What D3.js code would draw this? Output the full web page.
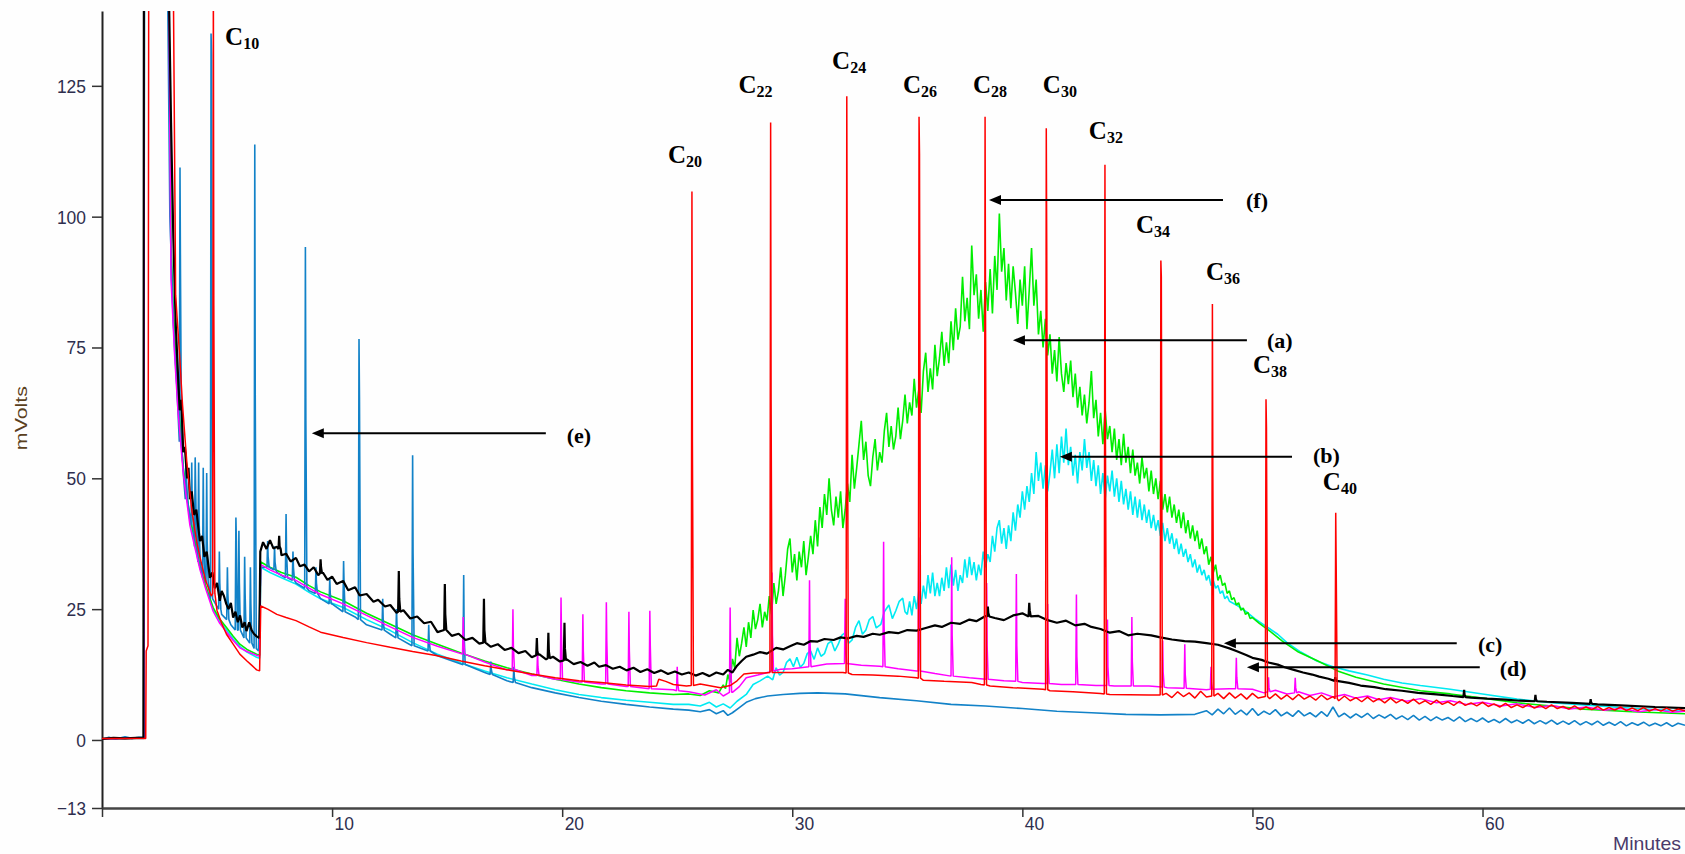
<!DOCTYPE html>
<html><head><meta charset="utf-8">
<script src="https://cdn.jsdelivr.net/npm/d3@7"></script>
<style>body{margin:0;background:#fff}svg{display:block}</style>
</head><body>
<script>
// ---------------- DATA (time in minutes, signal in mV) ----------------
const yTickValues = [-13, 0, 25, 50, 75, 100, 125];
const xTickValues = [0, 10, 20, 30, 40, 50, 60];
const xTickLabels = ["", "10", "20", "30", "40", "50", "60"];
const xTitle = "Minutes";
const yTitle = "mVolts";

// (c) black
const blackBase = [[0,0.2],[0.5,0.4],[1,0.3],[1.5,0.4],[1.8,0.4],[1.82,145],[2.9,145],[3.0,118],[3.1,96],[3.2,80],[3.3,70],[3.38,63],[3.45,65],[3.53,55],[3.6,56],[3.7,50],[3.76,52],[3.82,46],[3.9,47.5],[4.0,43],[4.1,44],[4.2,40],[4.26,38],[4.35,39],[4.45,35],[4.55,36],[4.69,31],[4.8,32],[4.9,29],[5.0,30],[5.12,26.6],[5.2,28.5],[5.3,27.5],[5.4,26],[5.5,25],[5.6,26.2],[5.7,23.4],[5.8,24.5],[5.9,22.5],[6.0,23.8],[6.1,21.5],[6.2,22.5],[6.28,20.8],[6.4,22.5],[6.5,21],[6.6,20.3],[6.72,19.8],[6.84,19.5],[6.88,36],[7.0,37.8],[7.15,36.5],[7.3,38.2],[7.45,36.6],[7.6,36.9],[7.8,35.3],[8.0,35.6],[8.2,34.1],[8.43,34.8],[8.6,33.2],[8.8,33.5],[9.0,32.2],[9.2,33.0],[9.4,31.5],[9.6,32.0],[9.8,30.6],[10.0,31.2],[10.2,29.8],[10.48,30.4],[10.7,28.6],[11,29.2],[11.2,27.6],[11.5,27.9],[11.8,26.4],[12,26.8],[12.3,25.5],[12.53,25.8],[12.8,24.3],[13.1,24.8],[13.4,23.2],[13.7,23.6],[14,22.3],[14.3,22.6],[14.58,20.6],[14.9,21.2],[15.2,19.9],[15.5,20.3],[15.8,19.1],[16.1,19.5],[16.4,18.4],[16.63,18.8],[16.9,17.8],[17.2,18.3],[17.5,17.2],[17.8,17.6],[18.1,16.6],[18.4,17.0],[18.68,15.8],[19.0,16.4],[19.3,15.4],[19.6,15.9],[19.9,15.0],[20.2,15.4],[20.5,14.5],[20.8,14.9],[21.1,14.2],[21.4,14.8],[21.6,14.0],[21.9,14.3],[22.2,13.6],[22.5,14.0],[22.8,13.3],[23.1,13.8],[23.4,13.0],[23.7,13.5],[24.0,12.8],[24.3,13.3],[24.6,12.6],[24.9,13.1],[25.2,12.5],[25.5,12.9],[25.8,12.3],[26.1,12.8],[26.4,12.2],[26.7,12.9],[27.0,12.5],[27.2,13.4],[27.4,12.9],[27.6,14.2],[27.8,15.1],[28.0,15.9],[28.3,16.3],[28.6,16.8],[28.9,16.5],[29.3,17.6],[29.6,17.3],[29.9,17.9],[30.2,18.5],[30.5,18.2],[30.8,18.9],[31.1,18.8],[31.4,19.3],[31.8,19.1],[32.1,19.6],[32.4,19.4],[32.8,19.9],[33.1,19.7],[33.5,20.3],[33.8,20.1],[34.2,20.6],[34.6,20.4],[35.0,21.0],[35.4,20.9],[35.8,21.4],[36.2,21.9],[36.5,21.6],[36.9,22.4],[37.3,22.2],[37.7,23.0],[38.0,22.7],[38.4,23.7],[38.8,23.3],[39.2,22.9],[39.6,23.8],[40.0,24.2],[40.3,23.6],[40.7,23.7],[41.1,22.9],[41.5,22.4],[41.9,22.8],[42.3,21.9],[42.7,22.2],[43.0,21.6],[43.4,21.2],[43.8,20.5],[44.2,20.8],[44.6,20.0],[45.0,20.3],[45.6,20.0],[46.0,19.6],[46.5,19.2],[47.05,18.9],[47.5,18.8],[48.0,18.5],[48.5,18.2],[49.0,17.5],[49.3,17.0],[49.7,16.3],[50,15.7],[50.4,15.3],[50.7,14.8],[51.1,14.4],[51.4,13.9],[51.8,13.4],[52.2,12.9],[52.6,12.5],[52.9,12.1],[53.3,11.7],[53.6,11.3],[54.2,10.9],[54.7,10.4],[55.3,10.1],[55.8,9.7],[56.5,9.4],[57.2,9.0],[58,8.7],[58.7,8.4],[59.5,8.1],[60.2,7.9],[61,7.7],[61.6,7.5],[62.8,7.3],[63.9,7.1],[65,6.8],[66,6.6],[67.5,6.3],[68.8,6.1]];
// peaks: [time, base, apex, shoulder]
const blackPeaks = [[7.7,36.5,39,37],[9.5,31.8,34.5,33],[12.9,24.5,32.3,27],[14.9,21,29.8,24],[16.6,18.6,27,21],[18.9,16.2,19.5,17],[19.4,15.6,20.5,17],[20.1,15.2,22.4,17.5],[38.5,23.6,25.5,24.3],[40.3,23.6,26.2,24.8],[53.6,11.3,12,11.5],[59.2,8.2,9.6,8.6],[62.3,7.4,8.6,7.8],[64.7,6.9,7.8,7.2]];

// (f) red n-alkane standard
const redBase = [[0,0.3],[1,0.3],[1.9,0.3],[1.92,17],[2.0,18],[2.03,145],[3.1,145],[3.2,85],[3.38,73],[3.5,64],[3.68,53.4],[3.9,44],[4.11,38],[4.26,34.9],[4.5,30.5],[4.75,27.5],[5.0,24.7],[5.2,22.3],[5.41,20.2],[5.7,18.3],[5.99,16.4],[6.3,15.1],[6.5,14.3],[6.72,13.4],[6.85,13.2],[6.9,25.6],[7.2,25.0],[7.6,24.0],[8.0,23.4],[8.43,22.8],[9,21.6],[9.5,20.6],[10.48,19.6],[11.5,18.6],[12.53,17.7],[13.5,16.9],[14.58,16.1],[15.6,15.1],[16.63,14.2],[17.6,13.4],[18.68,12.6],[19.7,11.9],[20.73,11.3],[21.7,11.0],[22.78,10.5],[23.8,10.2],[24.1,10.3],[24.2,11.6],[24.5,11.2],[24.83,10.6],[25.4,10.3],[26.0,10.7],[26.88,10.0],[27.3,10.4],[27.6,11.3],[27.9,12.6],[28.3,12.8],[28.8,12.8],[29.5,12.9],[30.33,12.9],[31.2,12.9],[32.2,12.9],[32.6,12.5],[33.5,12.4],[34.6,12.2],[35.4,11.9],[35.7,11.4],[36.6,11.2],[37.8,11.0],[38.2,10.6],[38.6,10.3],[39.6,10.0],[40.9,9.7],[41.2,9.4],[42.2,9.2],[43.4,8.9],[43.8,8.7],[45.5,8.6],[46.25,8.9],[46.5,8.1],[46.75,9.2],[47.0,8.3],[47.25,9.0],[47.5,8.0],[47.75,9.3],[48.0,8.2],[48.5,8.9],[48.75,7.9],[49.0,9.0],[49.25,8.0],[49.5,8.8],[49.75,7.8],[50.0,8.9],[50.25,8.0],[50.75,7.9],[51.0,8.8],[51.25,7.8],[51.5,8.6],[51.75,7.7],[52.0,8.7],[52.25,7.8],[52.5,8.4],[52.75,7.6],[53.0,8.6],[53.25,7.7],[53.5,8.3],[53.75,7.5],[54.0,8.4],[54.25,7.5],[54.5,8.1],[54.75,7.3],[55.0,8.2],[55.25,7.3],[55.5,7.9],[55.75,7.1],[56.0,8.0],[56.25,7.1],[56.5,7.7],[56.75,7.0],[57.0,7.8],[57.25,6.9],[57.5,7.5],[57.75,6.8],[58.0,7.6],[58.25,6.8],[58.5,7.3],[58.75,6.6],[59.0,7.4],[59.25,6.6],[59.5,7.1],[59.75,6.5],[60.0,7.2],[60.25,6.4],[60.5,6.9],[60.75,6.3],[61.0,7.0],[61.25,6.2],[61.5,6.7],[61.75,6.2],[62.0,6.8],[62.25,6.1],[62.5,6.6],[62.75,6.0],[63.0,6.7],[63.25,6.0],[63.5,6.4],[63.75,5.9],[64.0,6.5],[64.25,5.8],[64.5,6.3],[64.75,5.8],[65.0,6.4],[65.25,5.7],[65.5,6.2],[65.75,5.7],[66.0,6.3],[66.25,5.6],[66.5,6.1],[66.75,5.6],[67.0,6.2],[67.25,5.5],[67.5,6.0],[67.75,5.5],[68.0,6.1],[68.25,5.5],[68.5,5.9],[68.8,5.6]];
const redPeaks = [[4.84,28,145,83],[25.64,10.4,104.8,57],[29.06,12.9,118.0,65],[32.37,12.8,123.0,85],[35.51,11.8,119.1,112],[38.38,10.5,119.1,81],[41.04,9.6,116.9,94],[43.59,8.8,109.9,59],[46.02,8.6,91.6,88.5],[48.26,8.4,83.3,50],[50.59,8.3,65.1,59.7],[53.62,7.9,43.4,33.3]];

// (e) blue
const blueBase = [[0,0.1],[0.3,0.5],[0.6,0.2],[1.0,0.6],[1.3,0.3],[1.6,0.5],[1.82,0.5],[1.84,145],[2.85,145],[2.95,100],[3.1,80],[3.25,68],[3.4,58],[3.55,50],[3.7,45],[3.85,40],[4.0,37],[4.2,34],[4.4,31],[4.6,29],[4.8,27],[5.0,25.5],[5.2,24],[5.4,23],[5.6,22],[5.8,21],[6.0,20],[6.2,19.5],[6.4,18.5],[6.6,17.5],[6.8,17],[6.9,33],[7.2,33.5],[7.6,32],[8.0,31],[8.43,30],[9,28.5],[9.5,27],[10.0,26],[10.48,24.7],[11,23.5],[11.5,22],[12.53,20.2],[13.5,18],[14.58,16.1],[15.6,14.5],[16.63,12.9],[17.6,11.3],[18.68,10.0],[19.7,9.0],[20.73,8.1],[21.7,7.4],[22.78,6.8],[23.8,6.3],[24.83,5.9],[25.5,5.7],[26,5.4],[26.4,5.8],[26.7,5.0],[27.0,5.6],[27.2,4.7],[27.4,5.2],[27.7,6.2],[28.0,7.2],[28.4,7.9],[28.93,8.4],[29.6,8.7],[30.33,8.9],[31.1,9.0],[32.3,8.8],[33.8,8.1],[35.4,7.5],[36.9,6.8],[38.4,6.5],[40,6.0],[41.5,5.5],[43,5.2],[44.5,4.9],[46,4.8],[47.5,4.9],[48.0,5.6],[48.25,4.8],[48.5,5.9],[48.75,5.0],[49.0,6.1],[49.25,4.9],[49.5,5.7],[49.75,4.8],[50.0,6.0],[50.25,4.7],[50.5,5.5],[50.75,4.9],[51.0,5.8],[51.25,4.6],[51.5,5.3],[51.75,4.5],[52.0,5.6],[52.25,4.6],[52.5,5.2],[52.75,4.4],[53.0,5.4],[53.25,4.5],[53.5,6.3],[53.75,4.4],[54.0,5.1],[54.25,4.2],[54.5,5.0],[54.75,4.3],[55.0,5.1],[55.25,4.1],[55.5,4.8],[55.75,4.2],[56.0,4.9],[56.25,4.0],[56.5,4.6],[56.75,3.9],[57.0,4.7],[57.25,3.8],[57.5,4.5],[57.75,3.7],[58.0,4.4],[58.25,3.8],[58.5,4.3],[58.75,3.6],[59.0,4.4],[59.25,3.5],[59.5,4.1],[59.75,3.5],[60.0,4.2],[60.25,3.4],[60.5,3.9],[60.75,3.3],[61.0,4.1],[61.25,3.3],[61.5,3.8],[61.75,3.2],[62.0,3.9],[62.25,3.1],[62.5,3.7],[62.75,3.1],[63.0,3.8],[63.25,3.0],[63.5,3.6],[63.75,3.0],[64.0,3.7],[64.25,2.9],[64.5,3.5],[64.75,2.9],[65.0,3.6],[65.25,2.8],[65.5,3.4],[65.75,2.8],[66.0,3.5],[66.25,2.7],[66.5,3.3],[66.75,2.8],[67.0,3.4],[67.25,2.7],[67.5,3.2],[67.75,2.7],[68.0,3.3],[68.25,2.6],[68.5,3.2],[68.8,2.8]];
const bluePeaks = [[3.39,57,109.4,90],[3.65,46,55,50],[3.9,41,53,45],[4.05,37,54,48],[4.2,34,53,42],[4.4,31,52,40],[4.55,30,51,38],[4.74,27,135,131],[5.1,25,36,30],[5.45,23,33,28],[5.82,21,42.5,38],[5.95,21,40,30],[6.2,19.5,35,28],[6.45,18.5,33,26],[6.64,17.5,113.8,66],[7.2,33,38,35],[7.5,32.5,37,34],[8.0,31,43.2,36],[8.3,30.5,36,33],[8.84,29,94.2,61],[9.3,28,33,30],[9.9,26,31,28],[10.5,24.5,34.2,30],[11.17,23,76.6,65.5],[12.2,21,27,23],[12.8,19.5,25,22],[13.5,18,54.4,35.5],[14.2,17,22,19],[15.72,14.4,31.5,20],[16.9,12.5,15,13.5],[17.9,11,14,12]];

// (b) cyan
const cyanBase = [[0,0.2],[1,0.3],[1.82,0.3],[1.84,145],[2.9,145],[3.0,90],[3.15,75],[3.3,64],[3.53,52],[3.82,42],[4.0,38],[4.26,33],[4.5,29.5],[4.83,25.0],[5.1,22.8],[5.41,21.0],[5.7,19.3],[5.99,17.9],[6.3,16.8],[6.72,15.8],[6.85,15.6],[6.9,33],[7.3,32],[7.8,31],[8.43,29.8],[9,28.2],[9.5,27],[10.48,25.3],[11.5,23],[12.53,20.9],[13.5,18.6],[14.58,16.4],[15.6,14.7],[16.63,13.2],[17.6,11.9],[18.68,10.7],[19.7,9.6],[20.73,8.7],[21.7,8.1],[22.78,7.6],[23.8,7.2],[24.83,6.8],[25.5,6.8],[26,6.5],[26.4,7.2],[26.7,6.3],[27.0,6.9],[27.3,6.1],[27.6,7.4],[28.0,8.7],[28.3,10.6],[28.6,11.3],[28.93,12.2],[29.15,11.5],[29.3,13.8],[29.45,12.4],[29.6,12.9],[29.75,14.8],[29.9,15.5],[30.05,14.0],[30.2,15.8],[30.35,13.9],[30.5,14.6],[30.65,16.5],[30.8,17.0],[30.95,15.4],[31.1,17.6],[31.25,16.0],[31.4,16.5],[31.55,18.4],[31.7,18.9],[31.85,17.0],[32.0,18.3],[32.15,20.0],[32.3,20.5],[32.45,18.5],[32.6,19.1],[32.75,21.5],[32.9,22.8],[33.05,20.2],[33.2,21.0],[33.35,23.0],[33.5,23.6],[33.65,21.4],[33.85,22.1],[34.0,24.5],[34.2,25.8],[34.35,23.2],[34.5,24.7],[34.65,26.5],[34.8,27.1],[34.9,24.5],[35.0,24.0],[35.1,26.5],[35.2,23.8],[35.3,27.5],[35.4,25.0],[35.5,28.5],[35.6,26.0],[35.7,29.5],[35.8,27.0],[35.9,31.5],[36.0,28.0],[36.1,32.0],[36.2,27.5],[36.3,30.0],[36.4,27.5],[36.5,31.0],[36.6,28.5],[36.7,33.0],[36.8,29.0],[36.9,33.5],[37.0,29.5],[37.1,32.5],[37.2,28.5],[37.3,31.5],[37.4,30.0],[37.5,34.5],[37.6,31.0],[37.7,35.0],[37.8,31.5],[37.9,34.0],[38.0,30.5],[38.1,33.5],[38.2,31.5],[38.3,36.0],[38.4,33.0],[38.5,35.5],[38.6,34.0],[38.7,39.0],[38.8,36.0],[38.9,40.5],[39.0,42.0],[39.1,37.5],[39.2,40.5],[39.3,36.5],[39.4,41.0],[39.5,38.0],[39.6,43.5],[39.7,40.0],[39.8,45.0],[39.9,42.5],[40.0,47.5],[40.1,44.0],[40.2,48.5],[40.3,45.5],[40.4,51.0],[40.5,47.0],[40.6,55.0],[40.7,49.5],[40.8,53.0],[40.9,48.0],[41.0,52.5],[41.1,47.5],[41.2,51.0],[41.3,55.5],[41.4,50.0],[41.5,56.5],[41.6,51.0],[41.7,58.0],[41.8,53.0],[41.9,59.5],[42.0,52.5],[42.1,56.0],[42.2,50.5],[42.3,54.5],[42.4,49.0],[42.5,55.0],[42.6,51.5],[42.7,57.5],[42.8,52.0],[42.9,55.0],[43.0,49.5],[43.1,53.5],[43.2,48.5],[43.3,52.5],[43.4,47.0],[43.5,51.0],[43.6,46.0],[43.7,50.5],[43.8,47.5],[43.9,51.5],[44.0,46.5],[44.1,50.0],[44.2,45.5],[44.3,49.5],[44.4,45.0],[44.5,48.0],[44.6,44.0],[44.7,47.5],[44.8,43.0],[44.9,46.5],[45.0,42.5],[45.1,46.0],[45.2,42.0],[45.3,45.0],[45.4,41.5],[45.5,44.0],[45.6,40.5],[45.7,43.0],[45.8,40.0],[45.9,42.0],[46.0,39.0],[46.1,41.5],[46.2,38.0],[46.3,40.5],[46.4,37.5],[46.5,39.5],[46.6,36.5],[46.7,38.5],[46.8,35.5],[46.9,37.5],[47.0,35.0],[47.1,36.5],[47.2,34.0],[47.3,35.5],[47.4,33.0],[47.5,34.5],[47.6,32.0],[47.7,33.5],[47.8,31.5],[47.9,32.5],[48.0,30.5],[48.1,31.5],[48.2,29.5],[48.3,30.5],[48.4,29.0],[48.5,29.5],[48.6,28.0],[48.7,28.5],[48.8,27.0],[48.9,27.5],[49.0,26.5],[49.3,25.8],[49.7,24.6],[50.1,23.2],[50.5,22.0],[51.1,20.2],[51.5,18.6],[52.1,16.8],[52.8,15.1],[53.5,14.0],[54.2,13.2],[55,12.4],[55.7,11.6],[56.5,10.9],[57.3,10.4],[58.6,9.7],[60,8.8],[61.5,7.8],[63,7.1],[64.4,6.7],[66,6.2],[67.5,5.8],[68.8,5.5]];
const cyanPeaks = [];

// (a) green
const greenBase = [[0,0.2],[1,0.3],[1.82,0.4],[1.84,145],[2.9,145],[3.0,95],[3.1,82],[3.24,71.2],[3.4,60],[3.53,52],[3.7,46.5],[3.82,42.5],[4.0,39],[4.26,33],[4.5,29.5],[4.83,25.3],[5.1,23.2],[5.41,21.5],[5.7,19.8],[5.99,18.3],[6.3,17.3],[6.72,16.4],[6.85,16.2],[6.9,34],[7.3,33],[7.8,32],[8.43,31.1],[9,29.5],[9.5,28.3],[10.48,26.6],[11.5,24.2],[12.53,22.1],[13.5,20.1],[14.58,18.3],[15.6,16.6],[16.63,15.1],[17.6,13.8],[18.68,12.6],[19.7,11.6],[20.73,10.7],[21.7,10.0],[22.78,9.4],[23.8,9.0],[24.83,8.7],[25.5,8.8],[26.0,8.5],[26.4,9.4],[26.8,9.0],
[27.0,10.5],[27.1,9.8],[27.2,12.5],[27.3,11.0],[27.4,15.5],[27.5,13.8],[27.6,19.5],[27.7,16.0],[27.8,18.5],[27.9,21.5],[28.0,17.8],[28.1,22.5],[28.2,19.5],[28.3,24.8],[28.4,21.2],[28.5,23.0],[28.6,26.0],[28.7,21.5],[28.8,24.5],[28.9,22.8],[29.0,27.5],[29.1,24.0],[29.2,30.0],[29.3,26.0],[29.4,28.5],[29.5,33.0],[29.6,27.5],[29.7,31.5],[29.8,36.5],[29.9,38.5],[30.0,32.0],[30.1,35.5],[30.2,30.5],[30.3,36.0],[30.4,33.0],[30.5,38.0],[30.6,31.5],[30.7,35.0],[30.8,39.0],[30.9,35.5],[31.0,42.0],[31.1,37.0],[31.2,44.5],[31.3,40.5],[31.4,47.0],[31.5,43.0],[31.6,50.0],[31.7,44.0],[31.8,41.0],[31.9,46.5],[32.0,42.5],[32.1,47.5],[32.2,40.5],[32.3,44.0],[32.4,49.0],[32.5,45.5],[32.6,54.5],[32.7,48.0],[32.8,52.0],[32.9,56.5],[33.0,61.0],[33.1,53.5],[33.2,57.0],[33.3,50.5],[33.4,48.5],[33.5,54.0],[33.6,57.5],[33.7,51.5],[33.8,55.0],[33.9,53.0],[34.0,59.0],[34.1,62.5],[34.2,56.0],[34.3,60.0],[34.4,55.5],[34.5,58.0],[34.6,63.5],[34.7,57.5],[34.8,61.0],[34.9,66.0],[35.0,60.5],[35.1,64.5],[35.2,62.0],[35.3,69.0],[35.4,63.5],[35.5,67.0],[35.6,62.5],[35.7,70.5],[35.8,74.0],[35.9,66.5],[36.0,71.0],[36.1,67.0],[36.2,75.5],[36.3,69.5],[36.4,73.0],[36.5,78.0],[36.6,71.5],[36.7,76.0],[36.8,72.0],[36.9,80.0],[37.0,74.5],[37.1,82.5],[37.2,76.5],[37.3,79.0],[37.4,88.5],[37.5,80.0],[37.6,84.5],[37.7,78.5],[37.8,94.5],[37.9,85.0],[38.0,89.0],[38.1,80.5],[38.2,86.0],[38.3,78.0],[38.4,87.5],[38.5,82.0],[38.6,90.0],[38.7,81.5],[38.8,92.5],[38.9,86.0],[39.0,100.6],[39.1,89.5],[39.2,94.0],[39.3,84.0],[39.4,91.0],[39.5,82.5],[39.6,90.5],[39.7,85.5],[39.8,79.5],[39.9,88.0],[40.0,83.0],[40.1,90.5],[40.2,78.5],[40.3,86.0],[40.4,94.0],[40.5,83.0],[40.6,88.0],[40.7,77.5],[40.8,82.0],[40.9,75.0],[41.0,80.5],[41.1,73.5],[41.2,77.5],[41.3,70.0],[41.4,74.5],[41.5,68.5],[41.6,77.0],[41.7,70.0],[41.8,66.5],[41.9,72.0],[42.0,68.0],[42.1,72.5],[42.2,65.5],[42.3,70.0],[42.4,63.5],[42.5,67.5],[42.6,62.0],[42.7,66.0],[42.8,60.5],[42.9,64.5],[43.0,70.5],[43.1,61.5],[43.2,65.0],[43.3,58.0],[43.4,62.5],[43.5,56.5],[43.6,63.0],[43.7,57.5],[43.8,60.0],[43.9,55.0],[44.0,59.5],[44.1,53.5],[44.2,57.5],[44.3,52.5],[44.4,58.5],[44.5,53.0],[44.6,56.0],[44.7,51.0],[44.8,55.5],[44.9,50.5],[45.0,53.0],[45.1,49.0],[45.2,54.0],[45.3,50.0],[45.4,52.0],[45.5,47.5],[45.6,51.5],[45.7,47.0],[45.8,50.0],[45.9,46.0],[46.0,49.5],[46.1,44.0],[46.2,47.0],[46.3,43.5],[46.4,46.5],[46.5,42.5],[46.6,45.0],[46.7,41.5],[46.8,44.0],[46.9,40.5],[47.0,43.5],[47.1,39.5],[47.2,42.0],[47.3,38.5],[47.4,41.0],[47.5,38.0],[47.6,40.0],[47.7,36.5],[47.8,38.5],[47.9,35.5],[48.0,37.0],[48.1,33.5],[48.2,35.0],[48.3,32.0],[48.4,33.5],[48.5,30.5],[48.6,31.5],[48.7,29.5],[48.8,30.0],[48.9,28.0],[49.0,28.5],[49.1,26.8],[49.2,27.2],[49.3,25.8],[49.4,26.2],[49.5,24.8],[49.6,25.2],[49.7,24.0],[49.8,24.4],[49.9,23.2],[50.0,23.4],
[50.3,22.3],[50.7,21.0],[51.3,18.9],[52.0,16.8],[52.8,15.2],[53.7,13.2],[54.5,12.0],[55.7,10.7],[57.3,9.4],[58.6,8.8],[60,8.0],[61.5,7.1],[63,6.5],[64.4,5.9],[66.5,5.4],[68.8,5.0]];
const greenPeaks = [];

// (d) magenta
const magentaBase = [[0,0.2],[1,0.3],[1.82,0.4],[1.84,145],[2.9,145],[3.0,88],[3.15,74],[3.3,63],[3.53,51],[3.82,41],[4.0,37.5],[4.26,32.5],[4.5,29],[4.83,24.6],[5.1,22.4],[5.41,20.6],[5.7,19.0],[5.99,17.6],[6.3,16.9],[6.72,16.2],[6.85,16.0],[6.9,33.5],[7.3,32.5],[7.8,31.5],[8.43,30.5],[9,29],[9.5,27.8],[10.48,26],[11.5,23.8],[12.53,21.6],[13.5,19.6],[14.58,17.9],[15.6,16.5],[16.63,14.9],[17.6,13.4],[18.68,12.3],[19.7,11.6],[20.73,11.1],[21.7,10.7],[22.78,10.2],[23.8,9.8],[24.83,9.6],[25.5,9.2],[26.2,8.6],[26.7,9.6],[27.0,8.4],[27.4,9.1],[27.7,10.2],[28.0,11.9],[28.5,12.4],[29.0,13.0],[29.5,13.5],[30.0,13.6],[30.8,14.1],[31.5,14.5],[32.3,14.6],[33.0,14.3],[33.8,14.1],[34.6,13.6],[35.4,13.2],[36.2,12.7],[36.9,12.2],[37.7,11.9],[38.4,11.6],[39.2,11.3],[40,11.0],[40.9,10.8],[41.7,10.6],[42.4,10.7],[43.2,10.4],[44,10.3],[45.5,10.3],[46.3,10.0],[47.1,9.9],[48.0,9.6],[49.0,9.8],[50,9.7],[50.5,9.0],[51,9.5],[51.5,8.8],[52,9.2],[52.5,8.5],[53,9.0],[53.5,8.2],[54,8.7],[54.5,8.0],[55,8.4],[55.5,7.7],[56,8.1],[56.7,7.4],[57.3,7.9],[58,7.1],[58.6,7.5],[59.3,6.8],[60,7.2],[60.8,6.5],[61.5,6.9],[62.3,6.2],[63,6.6],[63.8,5.9],[64.5,6.3],[65.3,5.7],[66,6.0],[66.8,5.4],[67.5,5.8],[68.2,5.3],[68.8,5.5]];
const magentaPeaks = [[15.7,16.4,23.5,19],[17.86,13.5,25,18],[18.93,12.3,17,14],[19.95,11.5,27.2,20],[20.9,11.1,24,17],[21.92,10.7,26.3,19],[22.9,10.2,24.5,17],[23.81,9.8,24.7,18],[25.0,9.4,14,11],[27.3,9.1,25.3,17],[29.12,13.2,32,20],[30.75,14.0,30.5,19],[32.3,14.6,27,18],[33.97,14.0,37.9,22],[35.5,13.2,38.7,24],[36.93,12.2,34.9,20],[38.45,11.6,30,18],[39.74,11.2,31.7,18],[41.1,10.8,26,16],[42.35,10.6,27.8,16],[43.7,10.4,23,14],[44.76,10.3,23.5,15],[46.1,10.1,19,13],[47.06,9.9,18.3,12.5],[48.2,9.7,14,11],[49.3,9.8,15.7,12],[50.7,9.2,12,10],[51.86,9.0,11.9,10]];

// annotations: carbon-number labels [number, time, mV]
const carbonLabels = [["10",5.35,132.8],["20",24.6,110.2],["22",27.66,123.6],["24",31.73,128.2],["26",34.81,123.6],["28",37.85,123.6],["30",40.89,123.6],["32",42.89,114.8],["34",44.94,96.8],["36",47.98,87.9],["38",50.02,70.1],["40",53.06,47.8]];
// arrows: [label, tip time, tail time, mV, label time, label mV]
const arrowNotes = [["(e)",9.12,19.29,58.6,20.2,56.7],["(f)",38.55,48.72,103.2,49.72,101.6],["(a)",39.59,49.76,76.4,50.63,74.9],["(b)",41.63,51.72,54.1,52.63,52.9],["(c)",48.76,58.88,18.5,59.8,16.8],["(d)",49.76,59.88,13.9,60.75,12.2]];

// ---------------- DRAWING ----------------
const W = 1685, H = 854;
const svg = d3.select("body").append("svg").attr("width", W).attr("height", H)
  .style("background", "#fefefe");
const x = d3.scaleLinear().domain([0, 68.8]).range([102, 1685]);
const y = d3.scaleLinear().domain([-13, 139.3]).range([808, 11]);

svg.append("defs").append("clipPath").attr("id", "plotclip")
  .append("rect").attr("x", x(0)).attr("y", y(139.3)).attr("width", x(68.8) - x(0)).attr("height", y(-13) - y(139.3));

const tickFont = "'Liberation Sans', Arial, sans-serif";
const tickColor = "#2e2e4e";

// Y axis
const yAxis = svg.append("g").attr("transform", `translate(${x(0)},0)`)
  .call(d3.axisLeft(y).tickValues(yTickValues).tickSize(10).tickSizeOuter(0).tickPadding(6));
yAxis.select(".domain").attr("stroke", "#222").attr("stroke-width", 2);
yAxis.selectAll(".tick line").attr("stroke", "#333").attr("stroke-width", 1.5);
yAxis.selectAll(".tick text").attr("font-family", tickFont).attr("font-size", 19)
  .attr("fill", tickColor).attr("dy", "0.34em")
  .attr("textLength", d => String(d).length * 9.7).attr("lengthAdjust", "spacingAndGlyphs");

// X axis
const xAxis = svg.append("g").attr("transform", `translate(0,${y(-13)})`)
  .call(d3.axisBottom(x).tickValues(xTickValues).tickSize(9).tickSizeOuter(0)
    .tickFormat((d, i) => xTickLabels[i]));
xAxis.select(".domain").attr("stroke", "#444").attr("stroke-width", 2.5);
xAxis.selectAll(".tick line").attr("stroke", "#333").attr("stroke-width", 1.5);
xAxis.selectAll(".tick text").attr("font-family", tickFont).attr("font-size", 19)
  .attr("fill", tickColor).attr("text-anchor", "start").attr("x", 2).attr("y", 8).attr("dy", "0.75em")
  .attr("textLength", (d, i) => xTickLabels[i].length * 9.7).attr("lengthAdjust", "spacingAndGlyphs");

svg.append("text").text(xTitle).attr("x", W - 4).attr("y", 850)
  .attr("text-anchor", "end").attr("font-family", tickFont).attr("font-size", 19)
  .attr("fill", "#4a3a6a").attr("textLength", 68).attr("lengthAdjust", "spacingAndGlyphs");

svg.append("text").text(yTitle)
  .attr("transform", `translate(27,${y(61.5)}) rotate(-90)`)
  .attr("text-anchor", "middle").attr("font-family", tickFont).attr("font-size", 17)
  .attr("fill", "#5a4020").attr("textLength", 64).attr("lengthAdjust", "spacingAndGlyphs");

// series
function buildPoints(base, peaks) {
  const pts = base.filter(d => !peaks.some(p => Math.abs(d[0] - p[0]) < 0.075))
    .map(d => ({t: d[0], v: d[1]}));
  peaks.forEach(p => {
    pts.push({t: p[0] - 0.03, v: p[1]}, {t: p[0], v: p[2]}, {t: p[0] + 0.02, v: p[3]}, {t: p[0] + 0.065, v: p[1]});
  });
  pts.sort((a, b) => a.t - b.t);
  return pts;
}
const line = d3.line().x(d => x(d.t)).y(d => y(d.v)).curve(d3.curveLinear);
const series = [
  {base: cyanBase, peaks: cyanPeaks, color: "#00eaf2", w: 1.6},
  {base: greenBase, peaks: greenPeaks, color: "#00ee00", w: 1.6},
  {base: blueBase, peaks: bluePeaks, color: "#1282c8", w: 1.6},
  {base: magentaBase, peaks: magentaPeaks, color: "#ff00ff", w: 1.5},
  {base: blackBase, peaks: blackPeaks, color: "#000000", w: 2.2},
  {base: redBase, peaks: redPeaks, color: "#ff0000", w: 1.5}
];
const plot = svg.append("g").attr("clip-path", "url(#plotclip)");
series.forEach(s => {
  plot.append("path").datum(buildPoints(s.base, s.peaks))
    .attr("d", line).attr("fill", "none").attr("stroke", s.color)
    .attr("stroke-width", s.w).attr("stroke-linejoin", "miter").attr("stroke-miterlimit", 1);
});

// carbon labels
const labelFont = "'Liberation Serif', 'Times New Roman', serif";
const cl = svg.append("g");
carbonLabels.forEach(d => {
  const t = cl.append("text").attr("x", x(d[1])).attr("y", y(d[2]))
    .attr("font-family", labelFont).attr("font-weight", "bold").attr("fill", "#000");
  t.append("tspan").text("C").attr("font-size", 25);
  t.append("tspan").text(d[0]).attr("font-size", 16).attr("dy", 4);
});

// arrows
const ar = svg.append("g");
arrowNotes.forEach(d => {
  const xt = x(d[1]), xe = x(d[2]), yy = y(d[3]);
  ar.append("line").attr("x1", xt + 6).attr("x2", xe).attr("y1", yy).attr("y2", yy)
    .attr("stroke", "#000").attr("stroke-width", 2);
  ar.append("path").attr("d", d3.line()([[xt, yy], [xt + 12, yy - 5], [xt + 12, yy + 5]]) + "Z").attr("fill", "#000");
  ar.append("text").text(d[0]).attr("x", x(d[4])).attr("y", y(d[5]))
    .attr("font-family", labelFont).attr("font-weight", "bold").attr("font-size", 22).attr("fill", "#000");
});
</script>
</body></html>
